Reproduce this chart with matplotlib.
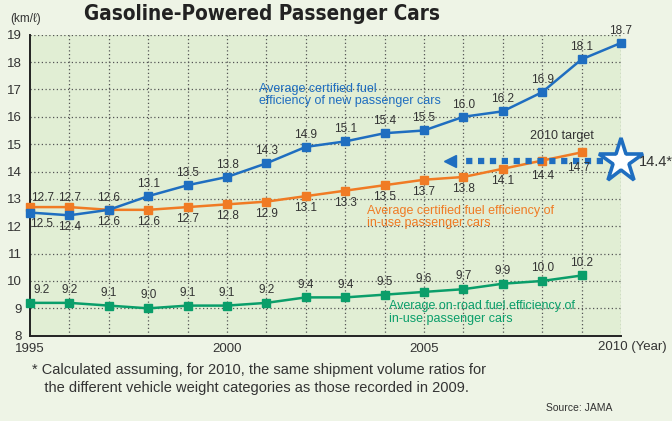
import matplotlib
matplotlib.use("Agg")
import matplotlib.pyplot as plt
from matplotlib import font_manager

years_new = list(range(1995, 2011))
new_cars = [12.5, 12.4, 12.6, 13.1, 13.5, 13.8, 14.3, 14.9, 15.1, 15.4, 15.5, 16.0, 16.2, 16.9, 18.1, 18.7]
years_use = list(range(1995, 2010))
inuse_cert = [12.7, 12.7, 12.6, 12.6, 12.7, 12.8, 12.9, 13.1, 13.3, 13.5, 13.7, 13.8, 14.1, 14.4, 14.7]
onroad = [9.2, 9.2, 9.1, 9.0, 9.1, 9.1, 9.2, 9.4, 9.4, 9.5, 9.6, 9.7, 9.9, 10.0, 10.2]
target_year = 2010
target_value = 14.4
yticks = list(range(8, 20))
xtick_labels = {1995: "1995", 2000: "2000", 2005: "2005"}

BLUE = "#1f6ec0"
ORANGE = "#f07b24"
GREEN = "#0a9e6a"
TXT = "#333333"
FIGBG = "#eef4e6"
AXBG = "#e1eed4"
FONT = ["Liberation Sans", "DejaVu Sans"]
plt.rcParams["font.family"] = FONT

# find a condensed bold font for the title if one exists
cond = None
for f in font_manager.fontManager.ttflist:
    st = str(f.stretch).lower()
    if ("narrow" in f.name.lower() or "condensed" in f.name.lower() or st in ("condensed", "semi-condensed", "700", "750")) \
            and f.weight in ("bold", 700, "700"):
        cond = f
        break

fig = plt.figure(figsize=(6.72, 4.21), dpi=100, facecolor=FIGBG)
ax = fig.add_axes([30/672, 1-335.7/421, (621-30)/672, (335.7-34.7)/421])
ax.set_facecolor(AXBG)
ax.set_xlim(1995, 2010)
ax.set_ylim(8, 19)

for yr in range(1996, 2011):
    ax.axvline(yr, color="#555555", lw=0.9, ls=(0, (1, 2)), zorder=1)
for v in range(9, 20):
    ax.axhline(v, color="#555555", lw=0.9, ls=(0, (1, 2)), zorder=1)

for s in ["top", "right"]:
    ax.spines[s].set_visible(False)
for s in ["left", "bottom"]:
    ax.spines[s].set_color("#222222")
    ax.spines[s].set_linewidth(1.4)

ax.set_yticks(yticks)
ax.set_yticklabels([str(v) for v in yticks], fontsize=9.5, color=TXT)
ax.set_xticks(list(xtick_labels.keys()))
ax.set_xticklabels(list(xtick_labels.values()), fontsize=9.5, color=TXT)
ax.tick_params(length=0, pad=5)
ax.tick_params(axis="y", pad=6)
fig.text(598/672, 1-341/421, "2010 (Year)", ha="left", va="top", fontsize=9.5, color=TXT)
fig.text(10/672, 1-22/421, "(km/ℓ)", ha="left", va="baseline", fontsize=8.5, color=TXT,
         family=["Liberation Sans", "DejaVu Sans"])

ms = 5.5
ax.plot(years_use, onroad, color=GREEN, lw=1.8, marker="s", ms=ms, zorder=3, clip_on=False)
ax.plot(years_use, inuse_cert, color=ORANGE, lw=1.8, marker="s", ms=ms, zorder=3, clip_on=False)
ax.plot(years_new, new_cars, color=BLUE, lw=1.8, marker="s", ms=ms, zorder=4, clip_on=False)

lab_kw = dict(fontsize=8.5, color=TXT, ha="center", zorder=5)
for i, (x, y) in enumerate(zip(years_new, new_cars)):
    if i < 2:
        ax.text(x + (0.3 if i == 0 else 0), y - 0.2, f"{y:.1f}", va="top", **lab_kw)
    else:
        ax.text(x, y + 0.22, f"{y:.1f}", va="bottom", **lab_kw)
for i, (x, y) in enumerate(zip(years_use, inuse_cert)):
    if i < 2:
        ax.text(x + (0.33 if i == 0 else 0), y + 0.12, f"{y:.1f}", va="bottom", **lab_kw)
    else:
        off = 0.36 if i >= len(years_use) - 2 else 0.22
        ax.text(x - (0.08 if i == len(years_use) - 1 else 0), y - off, f"{y:.1f}", va="top", **lab_kw)
for i, (x, y) in enumerate(zip(years_use, onroad)):
    ax.text(x + (0.3 if i == 0 else 0), y + 0.25, f"{y:.1f}", va="bottom", **lab_kw)

# target arrow & star
ax.plot([2009.55, 2006.0], [target_value, target_value], color=BLUE, lw=4.5,
        ls=(0, (1.0, 0.9)), dash_capstyle="butt", zorder=4, clip_on=False)
ax.plot([2005.65], [target_value], marker="<", color=BLUE, ms=9, zorder=4, clip_on=False)
ax.plot([target_year], [target_value], marker="*", ms=33, mfc="white", mec=BLUE, mew=2.6,
        zorder=6, clip_on=False)
fig.text(639/672, 1-162/421, "14.4*", fontsize=10.5, color=TXT, va="center", ha="left")
ax.text(2008.5, 15.3, "2010 target", fontsize=9, color=TXT, va="center", ha="center")

ax.text(2000.8, 17.25, "Average certified fuel\nefficiency of new passenger cars", color=BLUE,
        fontsize=9, va="top", ha="left", linespacing=1.05)
ax.text(2003.55, 12.78, "Average certified fuel efficiency of\nin-use passenger cars", color=ORANGE,
        fontsize=9, va="top", ha="left", linespacing=1.05)
ax.text(2004.1, 9.3, "Average on-road fuel efficiency of\nin-use passenger cars", color=GREEN,
        fontsize=9, va="top", ha="left", linespacing=1.05)

tkw = dict(ha="center", va="baseline", fontweight="bold", color="#222222")
if cond is not None:
    tkw["fontproperties"] = font_manager.FontProperties(fname=cond.fname)
    tkw.pop("fontweight")
else:
    tkw["family"] = ["Liberation Sans", "DejaVu Sans"]
title = fig.text(262/672, 1-20/421, "Gasoline-Powered Passenger Cars", **tkw)
title.set_fontsize(18)
fig.canvas.draw()
w = title.get_window_extent().width
title.set_fontsize(18 * 356.0 / w)

fig.text(32/672, 1-363/421, "* Calculated assuming, for 2010, the same shipment volume ratios for\n   the different vehicle weight categories as those recorded in 2009.",
         ha="left", va="top", fontsize=10.5, color=TXT, linespacing=1.4)
fig.text(546/672, 1-411/421, "Source: JAMA", ha="left", va="baseline", fontsize=7.5, color=TXT)

fig.savefig("out.png", dpi=100, facecolor=FIGBG)
